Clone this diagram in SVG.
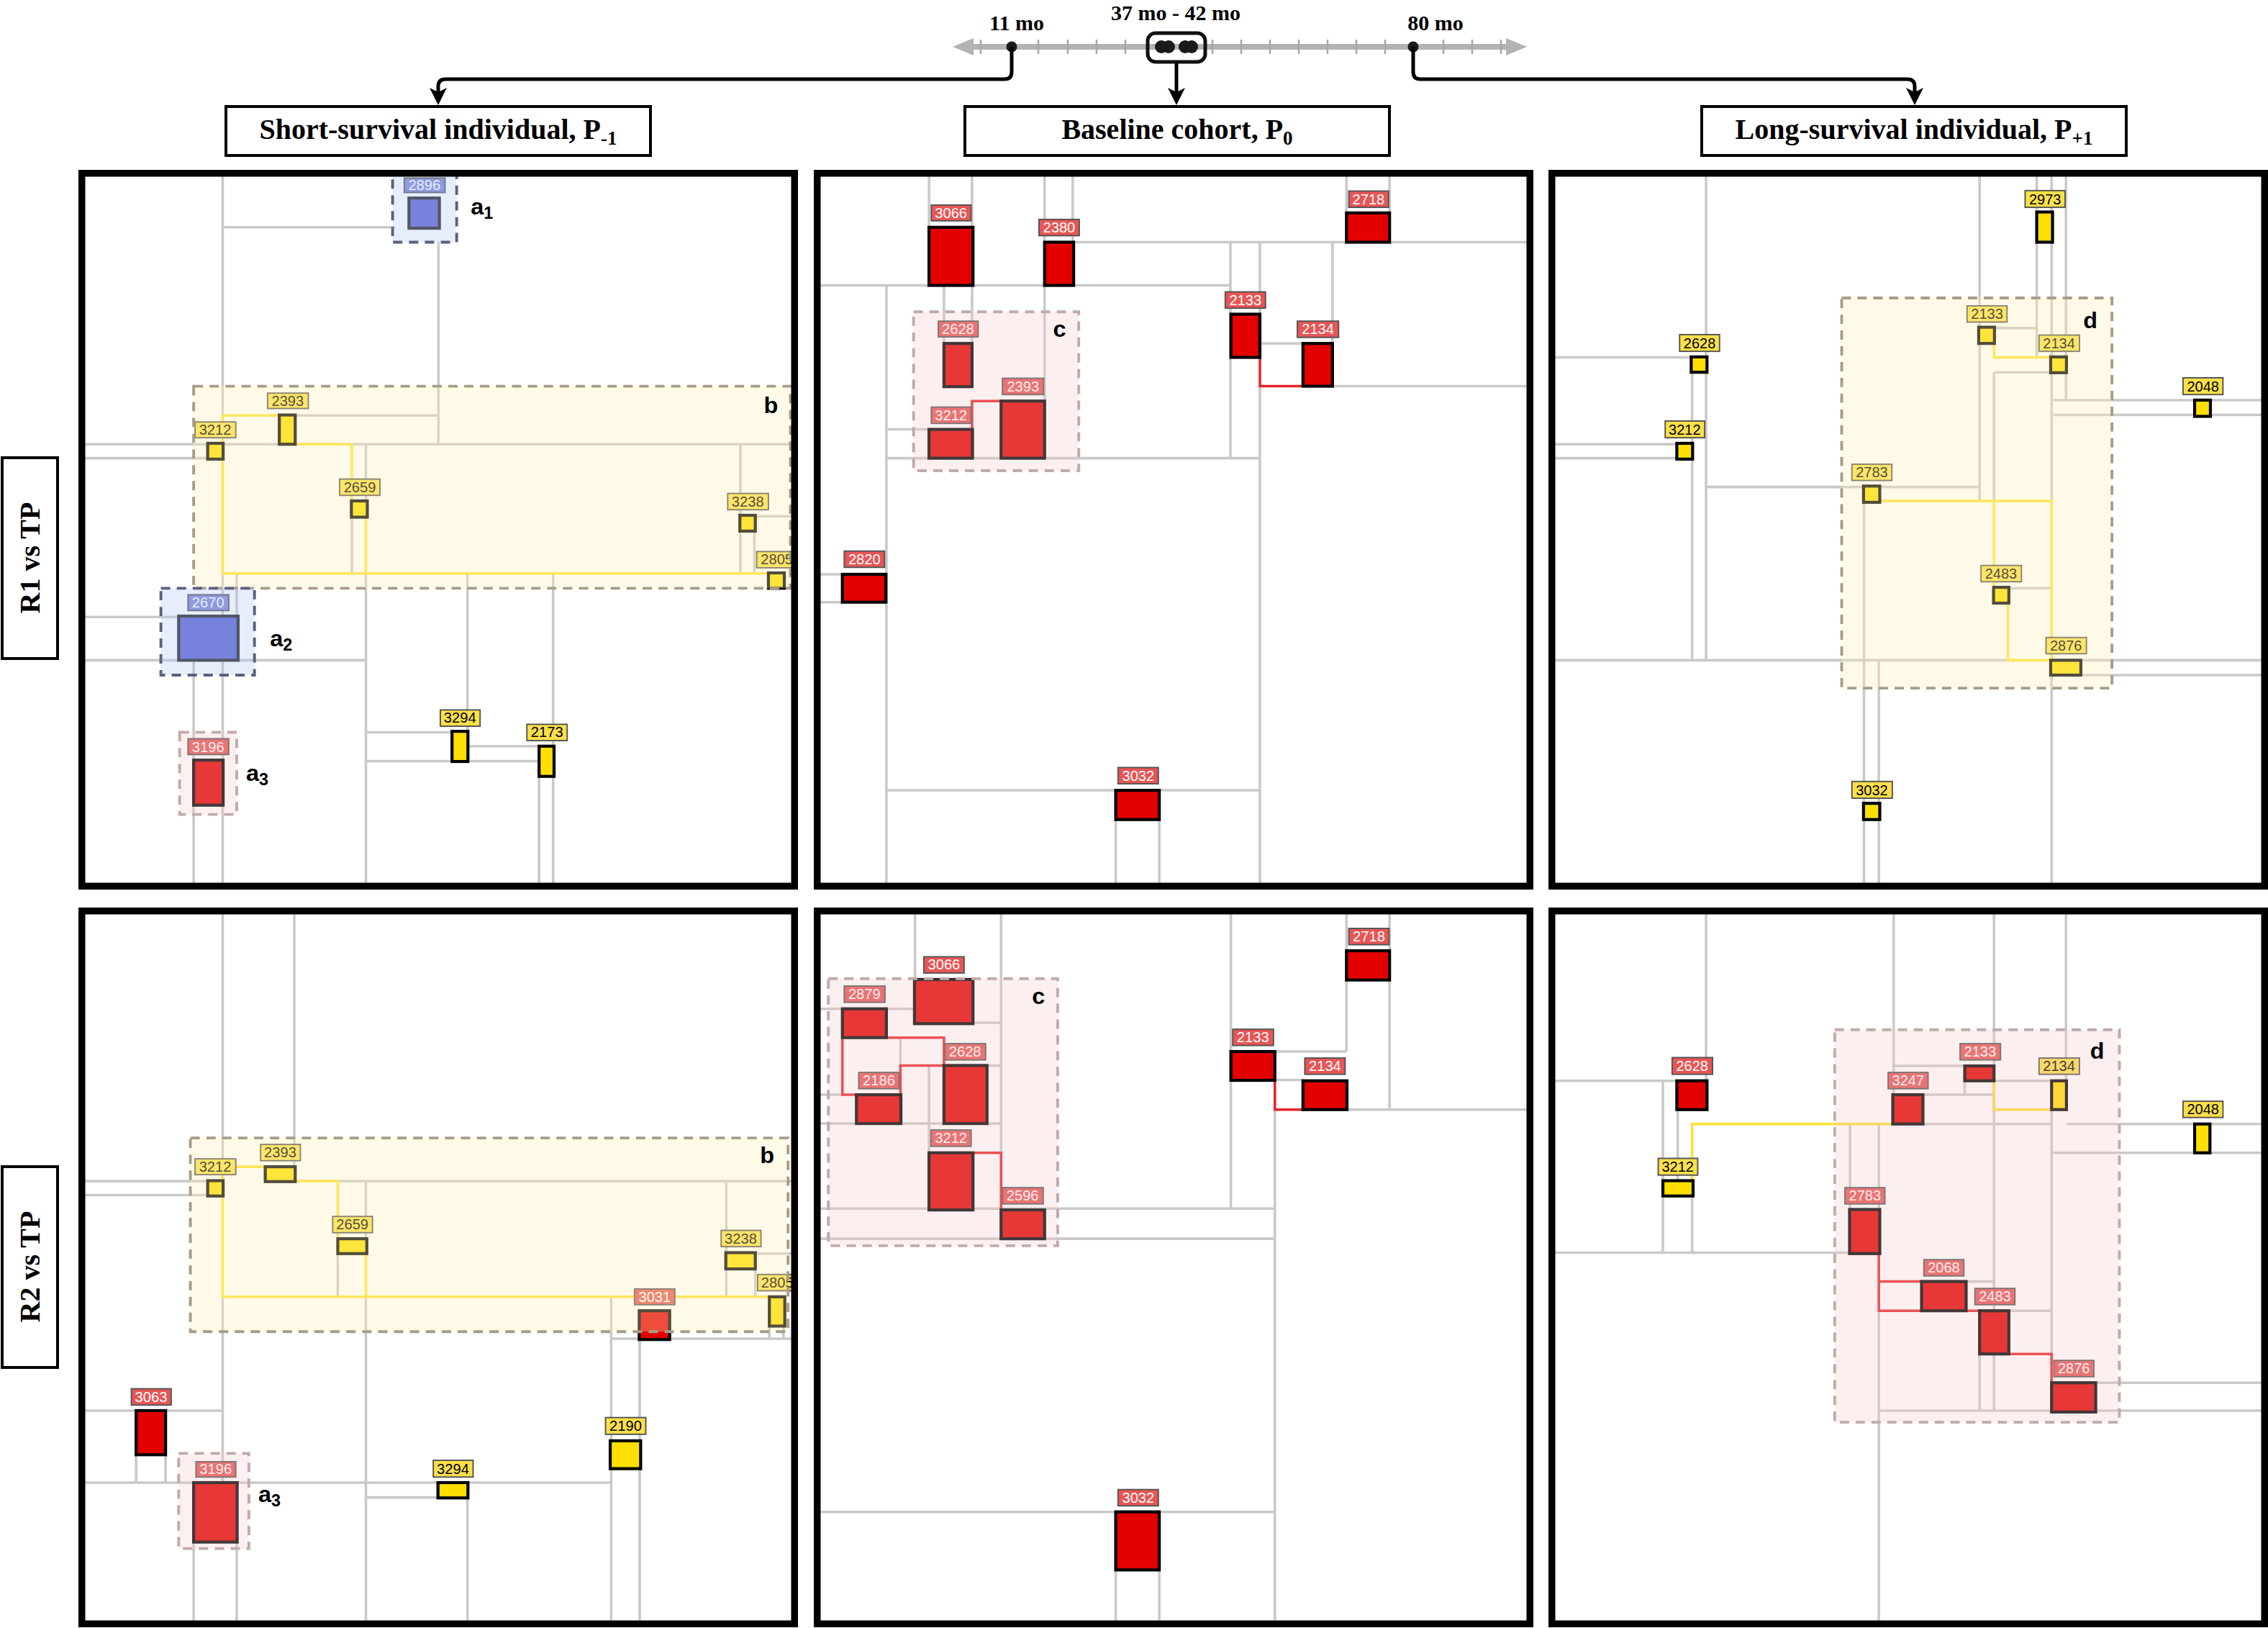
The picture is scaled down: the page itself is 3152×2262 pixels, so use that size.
<svg xmlns="http://www.w3.org/2000/svg" width="3152" height="2262" viewBox="0 0 3152 2262">
<style>
.g{stroke:#c9c9c9;stroke-width:5.5;fill:none}
.yl{stroke:#ffe033;stroke-width:5.5;fill:none}
.rl{stroke:#e8242a;stroke-width:5.5;fill:none}
.by{fill:#ffdf00;stroke:#000;stroke-width:6.5}
.br{fill:#e50000;stroke:#000;stroke-width:6.5}
.bb{fill:#5a62d3;stroke:#222;stroke-width:6.5}
.ly{fill:#fde047;stroke:#555;stroke-width:3}
.lr{fill:#e85555;stroke:#555;stroke-width:3}
.lb{fill:#7d86d9;stroke:#555;stroke-width:3}
.t{font-family:"Liberation Sans",Arial,sans-serif;font-size:31px;text-anchor:middle}
.tk{fill:#000}
.tw{fill:#fff}
.oy{fill:#fff0b3;fill-opacity:.32;stroke:#a89c88;stroke-width:6;stroke-dasharray:20 14}
.or{fill:#f0c4c4;fill-opacity:.28;stroke:#c2aaaa;stroke-width:6;stroke-dasharray:20 14}
.ob{fill:#b4c6f2;fill-opacity:.32;stroke:#5c6080;stroke-width:6;stroke-dasharray:20 14}
.ll{font-family:"Liberation Sans",Arial,sans-serif;font-weight:bold;font-size:50px;fill:#000}
.pb{fill:none;stroke:#000;stroke-width:9.5}
.hb{fill:#fff;stroke:#000;stroke-width:4}
.ht{font-family:"Liberation Serif","Times New Roman",serif;font-weight:bold;font-size:40px;text-anchor:middle;fill:#000}
.tt{font-family:"Liberation Serif","Times New Roman",serif;font-weight:bold;font-size:30px;text-anchor:middle;fill:#000}
.cn{fill:none;stroke:#000;stroke-width:5}
.tick{stroke:#a8a8a8;stroke-width:2.5}
</style>
<defs>
<clipPath id="c1"><rect x="109" y="236" width="1000" height="1000"/></clipPath>
<clipPath id="c2"><rect x="1131" y="236" width="1000" height="1000"/></clipPath>
<clipPath id="c3"><rect x="2152" y="236" width="1000" height="1000"/></clipPath>
<clipPath id="c4"><rect x="109" y="1261" width="1000" height="1000"/></clipPath>
<clipPath id="c5"><rect x="1131" y="1261" width="1000" height="1000"/></clipPath>
<clipPath id="c6"><rect x="2152" y="1261" width="1000" height="1000"/></clipPath>
</defs>
<rect x="0" y="0" width="3152" height="2262" fill="#fff"/>

<g id="timeline">
<line x1="1345" y1="65" x2="2100" y2="65" stroke="#b3b3b3" stroke-width="8"/>
<polygon points="1324,65 1353,53 1353,77" fill="#b3b3b3"/>
<polygon points="2122,65 2093,53 2093,77" fill="#b3b3b3"/>
<g class="tick">
<line x1="1363" y1="55" x2="1363" y2="75"/><line x1="1443" y1="55" x2="1443" y2="75"/><line x1="1484" y1="55" x2="1484" y2="75"/><line x1="1524" y1="55" x2="1524" y2="75"/><line x1="1564" y1="55" x2="1564" y2="75"/><line x1="1685" y1="55" x2="1685" y2="75"/><line x1="1725" y1="55" x2="1725" y2="75"/><line x1="1765" y1="55" x2="1765" y2="75"/><line x1="1805" y1="55" x2="1805" y2="75"/><line x1="1845" y1="55" x2="1845" y2="75"/><line x1="1885" y1="55" x2="1885" y2="75"/><line x1="1925" y1="55" x2="1925" y2="75"/><line x1="2006" y1="55" x2="2006" y2="75"/><line x1="2046" y1="55" x2="2046" y2="75"/><line x1="2086" y1="55" x2="2086" y2="75"/>
</g>
<circle cx="1406" cy="65" r="7.5" fill="#1a1a1a"/>
<circle cx="1964" cy="65" r="7.5" fill="#1a1a1a"/>
<rect x="1595" y="46" width="80" height="40" rx="11" fill="none" stroke="#111" stroke-width="5"/>
<circle cx="1614" cy="65" r="9" fill="#1a1a1a"/><circle cx="1624" cy="65" r="9" fill="#1a1a1a"/>
<circle cx="1647" cy="65" r="9" fill="#1a1a1a"/><circle cx="1656" cy="65" r="9" fill="#1a1a1a"/>
<text class="tt" x="1413" y="42">11 mo</text>
<text class="tt" x="1634" y="28">37 mo - 42 mo</text>
<text class="tt" x="1995" y="42">80 mo</text>
</g>

<g id="connectors">
<path class="cn" d="M1406,65V100Q1406,110 1396,110H619Q609,110 609,120V128"/>
<polygon points="609,146 597,122 609,128 621,122" fill="#000"/>
<path class="cn" d="M1635,86V128"/>
<polygon points="1635,146 1623,122 1635,128 1647,122" fill="#000"/>
<path class="cn" d="M1964,65V100Q1964,110 1974,110H2651Q2661,110 2661,120V128"/>
<polygon points="2661,146 2649,122 2661,128 2673,122" fill="#000"/>
</g>

<g id="hdr-short"><rect class="hb" x="314" y="148" width="590" height="68"/><text class="ht" x="609" y="193">Short-survival individual, P<tspan font-size="27" dy="8">-1</tspan></text></g>
<g id="hdr-baseline"><rect class="hb" x="1341" y="148" width="590" height="68"/><text class="ht" x="1636" y="193">Baseline cohort, P<tspan font-size="27" dy="8">0</tspan></text></g>
<g id="hdr-long"><rect class="hb" x="2365" y="148" width="590" height="68"/><text class="ht" x="2660" y="193">Long-survival individual, P<tspan font-size="27" dy="8">+1</tspan></text></g>

<g id="row-r1"><rect class="hb" x="3" y="636" width="77" height="279"/><text class="ht" transform="translate(55,775) rotate(-90)" x="0" y="0">R1 vs TP</text></g>
<g id="row-r2"><rect class="hb" x="3" y="1621" width="77" height="279"/><text class="ht" transform="translate(55,1760) rotate(-90)" x="0" y="0">R2 vs TP</text></g>

<!-- Panel 1: R1 short -->
<g id="panel-r1-short" clip-path="url(#c1)">
<g transform="translate(100,230) scale(0.65049,0.64541)">
<path class="g" d="M322,-20V1600 M322,133H690 M783,165V600 M477,538H783 M-20,600H1600 M-20,630H290 M598,757V878 M628,600V722 M628,878V1600 M1428,600V878 M1460,755H1600 M1458,787V878 M845,878V1218 M1028,878V1600 M998,1315V1600 M628,1220H812 M846,1250H998 M628,1282H998 M-20,972H228 M-20,1065H628 M260,1065V1600 M352,878V970"/>
<path class="yl" d="M322,600V538H443 M477,600H598V722 M322,632V878H1488 M628,757V878"/>
<g id="p1-2896"><rect class="bb" x="720" y="70" width="65" height="65"/><rect class="lb" x="710" y="27" width="87" height="31"/><text class="t tw" x="753" y="53">2896</text></g>
<g id="p1-2393"><rect class="by" x="443" y="537" width="34" height="63"/><rect class="ly" x="418" y="490" width="87" height="33"/><text class="t tk" x="461" y="517">2393</text></g>
<g id="p1-3212"><rect class="by" x="290" y="598" width="33" height="34"/><rect class="ly" x="263" y="552" width="87" height="34"/><text class="t tk" x="306" y="580">3212</text></g>
<g id="p1-2659"><rect class="by" x="597" y="722" width="34" height="35"/><rect class="ly" x="572" y="675" width="86" height="35"/><text class="t tk" x="615" y="703">2659</text></g>
<g id="p1-3238"><rect class="by" x="1427" y="753" width="33" height="34"/><rect class="ly" x="1401" y="706" width="87" height="35"/><text class="t tk" x="1444" y="734">3238</text></g>
<g id="p1-2805"><rect class="by" x="1488" y="877" width="34" height="33"/><rect class="ly" x="1463" y="831" width="87" height="35"/><text class="t tk" x="1506" y="859">2805</text></g>
<g id="p1-2670"><rect class="bb" x="228" y="970" width="127" height="95"/><rect class="lb" x="248" y="924" width="87" height="34"/><text class="t tw" x="291" y="952">2670</text></g>
<g id="p1-3196"><rect class="br" x="260" y="1280" width="63" height="97"/><rect class="lr" x="248" y="1234" width="87" height="34"/><text class="t tw" x="291" y="1262">3196</text></g>
<g id="p1-3294"><rect class="by" x="812" y="1218" width="34" height="65"/><rect class="ly" x="787" y="1172" width="85" height="35"/><text class="t tk" x="829" y="1200">3294</text></g>
<g id="p1-2173"><rect class="by" x="998" y="1250" width="32" height="65"/><rect class="ly" x="972" y="1203" width="86" height="35"/><text class="t tk" x="1015" y="1231">2173</text></g>
<rect class="ob" x="685" y="10" width="137" height="155"/>
<rect class="oy" x="260" y="475" width="1275" height="435"/>
<rect class="ob" x="190" y="910" width="200" height="187"/>
<rect class="or" x="230" y="1220" width="122" height="177"/>
<text class="ll" x="852" y="106">a<tspan font-size="36" dy="9">1</tspan></text>
<text class="ll" x="1478" y="533">b</text>
<text class="ll" x="423" y="1035">a<tspan font-size="36" dy="9">2</tspan></text>
<text class="ll" x="372" y="1325">a<tspan font-size="36" dy="9">3</tspan></text>
</g>
</g>

<!-- Panel 2: R1 baseline -->
<g id="panel-r1-baseline" clip-path="url(#c2)">
<g transform="translate(1120,230) scale(0.65049,0.64541)">
<path class="g" d="M263,-20V133 M355,-20V133 M510,-20V165 M570,-20V165 M-20,258H907 M572,165H1600 M1155,-20V102 M1247,-20V102 M907,165V630 M970,165V320 M970,475V1600 M972,383H1062 M1125,165V383 M1125,475H1600 M172,630H970 M172,258V1600 M172,568H263 M295,258V383 M355,258V383 M510,258V507 M-20,880H78 M-20,940H78 M172,1345H970 M662,1408V1600 M755,1408V1600"/>
<path class="rl" d="M355,568V507H417 M970,413V475H1062"/>
<g id="p2-3066"><rect class="br" x="263" y="133" width="94" height="125"/><rect class="lr" x="268" y="85" width="85" height="34"/><text class="t tw" x="310" y="113">3066</text></g>
<g id="p2-2380"><rect class="br" x="510" y="165" width="62" height="93"/><rect class="lr" x="498" y="116" width="86" height="35"/><text class="t tw" x="541" y="144">2380</text></g>
<g id="p2-2718"><rect class="br" x="1155" y="102" width="92" height="63"/><rect class="lr" x="1160" y="55" width="85" height="35"/><text class="t tw" x="1202" y="83">2718</text></g>
<g id="p2-2133"><rect class="br" x="908" y="320" width="62" height="93"/><rect class="lr" x="896" y="272" width="86" height="35"/><text class="t tw" x="939" y="300">2133</text></g>
<g id="p2-2134"><rect class="br" x="1062" y="383" width="63" height="92"/><rect class="lr" x="1050" y="335" width="88" height="35"/><text class="t tw" x="1094" y="363">2134</text></g>
<g id="p2-2628"><rect class="br" x="295" y="383" width="60" height="93"/><rect class="lr" x="283" y="335" width="85" height="34"/><text class="t tw" x="325" y="363">2628</text></g>
<g id="p2-2393"><rect class="br" x="417" y="507" width="93" height="123"/><rect class="lr" x="420" y="458" width="88" height="35"/><text class="t tw" x="464" y="486">2393</text></g>
<g id="p2-3212"><rect class="br" x="263" y="568" width="93" height="62"/><rect class="lr" x="268" y="520" width="85" height="35"/><text class="t tw" x="310" y="548">3212</text></g>
<g id="p2-2820"><rect class="br" x="78" y="880" width="93" height="60"/><rect class="lr" x="82" y="830" width="86" height="35"/><text class="t tw" x="125" y="858">2820</text></g>
<g id="p2-3032"><rect class="br" x="662" y="1345" width="93" height="63"/><rect class="lr" x="667" y="1296" width="86" height="35"/><text class="t tw" x="710" y="1324">3032</text></g>
<rect class="or" x="230" y="315" width="353" height="342"/>
<text class="ll" x="528" y="368">c</text>
</g>
</g>

<!-- Panel 3: R1 long -->
<g id="panel-r1-long" clip-path="url(#c3)">
<g transform="translate(2140,230) scale(0.64541)">
<path class="g" d="M358,-20V1065 M328,445V598 M328,632V1065 M-20,413H326 M-20,600H295 M-20,630H295 M360,692H947 M947,-20V722 M1070,-20V100 M1102,-20V100 M1070,165V413 M1102,165V722 M1102,1097V1600 M1133,-20V505 M980,350H1068 M980,445H1102 M978,445V722 M1105,505H1600 M1105,537H1600 M-20,1065H1008 M1165,1065H1600 M1165,1097H1600 M698,725V1600 M730,1065V1600 M1010,910H1100"/>
<path class="yl" d="M978,383V413H1100 M732,722H1102V1065 M978,722V908 M1008,943V1065H1100"/>
<g id="p3-2973"><rect class="by" x="1070" y="100" width="34" height="65"/><rect class="ly" x="1045" y="54" width="86" height="36"/><text class="t tk" x="1088" y="83">2973</text></g>
<g id="p3-2628"><rect class="by" x="326" y="412" width="34" height="33"/><rect class="ly" x="301" y="364" width="86" height="36"/><text class="t tk" x="344" y="393">2628</text></g>
<g id="p3-3212"><rect class="by" x="295" y="598" width="34" height="34"/><rect class="ly" x="270" y="550" width="85" height="36"/><text class="t tk" x="312" y="579">3212</text></g>
<g id="p3-2048"><rect class="by" x="1410" y="505" width="34" height="35"/><rect class="ly" x="1385" y="457" width="86" height="36"/><text class="t tk" x="1428" y="486">2048</text></g>
<g id="p3-2133"><rect class="by" x="945" y="348" width="34" height="35"/><rect class="ly" x="920" y="302" width="86" height="35"/><text class="t tk" x="963" y="330">2133</text></g>
<g id="p3-2134"><rect class="by" x="1100" y="412" width="34" height="34"/><rect class="ly" x="1075" y="365" width="87" height="35"/><text class="t tk" x="1118" y="393">2134</text></g>
<g id="p3-2783"><rect class="by" x="697" y="690" width="35" height="35"/><rect class="ly" x="672" y="643" width="86" height="35"/><text class="t tk" x="715" y="671">2783</text></g>
<g id="p3-2483"><rect class="by" x="977" y="908" width="33" height="34"/><rect class="ly" x="950" y="861" width="87" height="35"/><text class="t tk" x="993" y="889">2483</text></g>
<g id="p3-2876"><rect class="by" x="1100" y="1065" width="65" height="32"/><rect class="ly" x="1090" y="1016" width="87" height="35"/><text class="t tk" x="1133" y="1044">2876</text></g>
<g id="p3-3032"><rect class="by" x="697" y="1373" width="35" height="35"/><rect class="ly" x="672" y="1326" width="87" height="36"/><text class="t tk" x="715" y="1355">3032</text></g>
<rect class="oy" x="650" y="285" width="582" height="840"/>
<text class="ll" x="1170" y="350">d</text>
</g>
</g>

<!-- Panel 4: R2 short -->
<g id="panel-r2-short" clip-path="url(#c4)">
<g transform="translate(100,1250) scale(0.65049,0.64541)">
<path class="g" d="M322,-20V605 M322,855V1255 M475,-20V575 M-20,606H290 M477,606H1600 M-20,636H290 M568,762V855 M628,606V730 M628,855V1600 M1398,606V760 M1398,795V855 M1460,762H1600 M1460,795V855 M1152,855V1165 M1152,1225V1600 M1213,947V1165 M1213,1225V1600 M1152,945H1600 M1490,918V945 M1520,918V945 M-20,1100H320 M137,1195V1255 M200,1195V1255 M-20,1255H1150 M628,1287H782 M845,1288V1600 M260,1385V1600 M352,1385V1600"/>
<path class="yl" d="M322,605V575H413 M477,606H568V730 M322,638V855H1490 M628,762V855"/>
<g id="p4-3212"><rect class="by" x="290" y="605" width="33" height="33"/><rect class="ly" x="263" y="558" width="87" height="34"/><text class="t tk" x="306" y="586">3212</text></g>
<g id="p4-2393"><rect class="by" x="413" y="575" width="64" height="32"/><rect class="ly" x="403" y="527" width="85" height="35"/><text class="t tk" x="445" y="555">2393</text></g>
<g id="p4-2659"><rect class="by" x="568" y="730" width="62" height="32"/><rect class="ly" x="557" y="682" width="85" height="35"/><text class="t tk" x="599" y="710">2659</text></g>
<g id="p4-3238"><rect class="by" x="1397" y="760" width="63" height="35"/><rect class="ly" x="1387" y="712" width="85" height="35"/><text class="t tk" x="1429" y="740">3238</text></g>
<g id="p4-2805"><rect class="by" x="1490" y="855" width="33" height="63"/><rect class="ly" x="1465" y="807" width="85" height="35"/><text class="t tk" x="1507" y="835">2805</text></g>
<g id="p4-3031"><rect class="br" x="1212" y="885" width="65" height="62"/><rect class="lr" x="1202" y="838" width="86" height="34"/><text class="t tw" x="1245" y="866">3031</text></g>
<g id="p4-3063"><rect class="br" x="137" y="1100" width="63" height="95"/><rect class="lr" x="127" y="1053" width="85" height="35"/><text class="t tw" x="169" y="1081">3063</text></g>
<g id="p4-3196"><rect class="br" x="260" y="1255" width="93" height="128"/><rect class="lr" x="265" y="1210" width="85" height="33"/><text class="t tw" x="307" y="1237">3196</text></g>
<g id="p4-3294"><rect class="by" x="782" y="1255" width="64" height="33"/><rect class="ly" x="772" y="1207" width="85" height="36"/><text class="t tk" x="814" y="1236">3294</text></g>
<g id="p4-2190"><rect class="by" x="1150" y="1165" width="65" height="60"/><rect class="ly" x="1140" y="1115" width="86" height="36"/><text class="t tk" x="1183" y="1144">2190</text></g>
<rect class="oy" x="253" y="513" width="1277" height="417"/>
<rect class="or" x="228" y="1192" width="150" height="205"/>
<text class="ll" x="1470" y="567">b</text>
<text class="ll" x="398" y="1297">a<tspan font-size="36" dy="9">3</tspan></text>
</g>
</g>

<!-- Panel 5: R2 baseline -->
<g id="panel-r2-baseline" clip-path="url(#c5)">
<g transform="translate(1120,1250) scale(0.65049,0.64541)">
<path class="g" d="M233,-20V172 M417,-20V545 M908,-20V665 M1155,-20V110 M1155,173V327 M1247,-20V110 M1247,173V452 M1002,327H1155 M1002,388H1062 M1002,452V1600 M1157,452H1600 M-20,665H1002 M-20,730H1002 M-20,1318H1002 M662,1445V1600 M755,1445V1600 M-20,235H78 M172,235H232 M357,265H417 M387,357H417 M-20,420H78 M-20,482H417 M202,297V357 M263,357V545"/>
<path class="rl" d="M78,297V420H108 M172,297H295V357 M202,420V357H295 M357,545H417V668 M1002,389V452H1062"/>
<g id="p5-3066"><rect class="br" x="232" y="172" width="125" height="95"/><rect class="lr" x="252" y="123" width="86" height="35"/><text class="t tw" x="295" y="151">3066</text></g>
<g id="p5-2879"><rect class="br" x="78" y="235" width="94" height="62"/><rect class="lr" x="82" y="186" width="87" height="35"/><text class="t tw" x="125" y="214">2879</text></g>
<g id="p5-2628"><rect class="br" x="295" y="357" width="92" height="125"/><rect class="lr" x="297" y="310" width="87" height="35"/><text class="t tw" x="340" y="338">2628</text></g>
<g id="p5-2186"><rect class="br" x="108" y="420" width="95" height="62"/><rect class="lr" x="113" y="372" width="86" height="35"/><text class="t tw" x="156" y="400">2186</text></g>
<g id="p5-3212"><rect class="br" x="263" y="545" width="94" height="123"/><rect class="lr" x="267" y="496" width="86" height="35"/><text class="t tw" x="310" y="524">3212</text></g>
<g id="p5-2596"><rect class="br" x="417" y="668" width="93" height="62"/><rect class="lr" x="420" y="620" width="87" height="35"/><text class="t tw" x="463" y="648">2596</text></g>
<g id="p5-2718"><rect class="br" x="1155" y="110" width="92" height="63"/><rect class="lr" x="1160" y="62" width="86" height="35"/><text class="t tw" x="1203" y="90">2718</text></g>
<g id="p5-2133"><rect class="br" x="908" y="327" width="94" height="62"/><rect class="lr" x="912" y="279" width="87" height="35"/><text class="t tw" x="955" y="307">2133</text></g>
<g id="p5-2134"><rect class="br" x="1062" y="390" width="94" height="62"/><rect class="lr" x="1066" y="341" width="86" height="35"/><text class="t tw" x="1109" y="369">2134</text></g>
<g id="p5-3032"><rect class="br" x="662" y="1318" width="93" height="125"/><rect class="lr" x="667" y="1270" width="86" height="35"/><text class="t tw" x="710" y="1298">3032</text></g>
<rect class="or" x="48" y="170" width="490" height="575"/>
<text class="ll" x="483" y="225">c</text>
</g>
</g>

<!-- Panel 6: R2 long -->
<g id="panel-r2-long" clip-path="url(#c6)">
<g transform="translate(2140,1250) scale(0.64541)">
<path class="g" d="M358,-20V390 M-20,390H295 M265,390V605 M297,452V605 M265,638V760 M328,638V760 M-20,760H667 M762,-20V420 M978,-20V1100 M1133,-20V390 M762,358H915 M915,358V420 M980,390H1100 M825,420H978 M825,483H1100 M1135,483H1600 M1102,545H1600 M1102,452V978 M668,483V667 M730,483V667 M730,885V1600 M947,978V1100 M1010,885H1100 M1197,1040H1600 M730,1100H1600 M918,822H978"/>
<path class="yl" d="M328,605V483H760 M978,390V452H1102"/>
<path class="rl" d="M730,762V885H947 M730,822H822 M1010,978H1102V1040"/>
<g id="p6-2628"><rect class="br" x="295" y="390" width="65" height="62"/><rect class="lr" x="285" y="340" width="87" height="36"/><text class="t tw" x="328" y="369">2628</text></g>
<g id="p6-3212"><rect class="by" x="265" y="605" width="65" height="33"/><rect class="ly" x="255" y="557" width="85" height="36"/><text class="t tk" x="297" y="586">3212</text></g>
<g id="p6-3247"><rect class="br" x="760" y="420" width="65" height="63"/><rect class="lr" x="750" y="372" width="86" height="35"/><text class="t tw" x="793" y="400">3247</text></g>
<g id="p6-2133"><rect class="br" x="915" y="358" width="63" height="32"/><rect class="lr" x="905" y="310" width="87" height="35"/><text class="t tw" x="948" y="338">2133</text></g>
<g id="p6-2134"><rect class="by" x="1102" y="390" width="32" height="62"/><rect class="ly" x="1075" y="341" width="87" height="35"/><text class="t tk" x="1118" y="369">2134</text></g>
<g id="p6-2048"><rect class="by" x="1410" y="483" width="33" height="62"/><rect class="ly" x="1385" y="434" width="86" height="35"/><text class="t tk" x="1428" y="462">2048</text></g>
<g id="p6-2783"><rect class="br" x="667" y="667" width="65" height="95"/><rect class="lr" x="657" y="620" width="86" height="35"/><text class="t tw" x="700" y="648">2783</text></g>
<g id="p6-2068"><rect class="br" x="822" y="822" width="96" height="63"/><rect class="lr" x="827" y="775" width="86" height="35"/><text class="t tw" x="870" y="803">2068</text></g>
<g id="p6-2483"><rect class="br" x="947" y="885" width="63" height="93"/><rect class="lr" x="937" y="837" width="86" height="35"/><text class="t tw" x="980" y="865">2483</text></g>
<g id="p6-2876"><rect class="br" x="1102" y="1040" width="95" height="63"/><rect class="lr" x="1107" y="992" width="86" height="35"/><text class="t tw" x="1150" y="1020">2876</text></g>
<rect class="or" x="635" y="280" width="613" height="845"/>
<text class="ll" x="1185" y="343">d</text>
</g>
</g>

<g id="panel-borders">
<rect class="pb" x="113.75" y="240.75" width="990.5" height="990.5"/>
<rect class="pb" x="1135.75" y="240.75" width="990.5" height="990.5"/>
<rect class="pb" x="2156.75" y="240.75" width="990.5" height="990.5"/>
<rect class="pb" x="113.75" y="1265.75" width="990.5" height="990.5"/>
<rect class="pb" x="1135.75" y="1265.75" width="990.5" height="990.5"/>
<rect class="pb" x="2156.75" y="1265.75" width="990.5" height="990.5"/>
</g>
</svg>
